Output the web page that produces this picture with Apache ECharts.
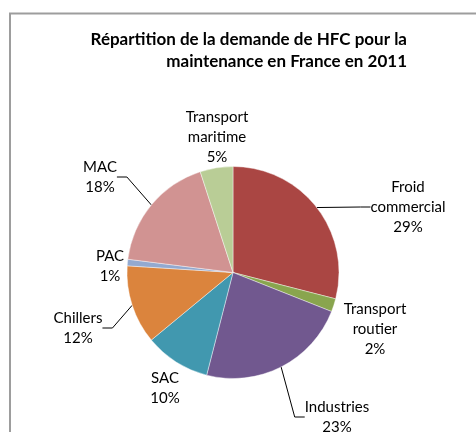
<!DOCTYPE html>
<html>
<head>
<meta charset="utf-8">
<script src="https://cdn.jsdelivr.net/npm/echarts@6/dist/echarts.min.js"></script>
<style>
	html, body { margin: 0; padding: 0; background: #fff; }
	#chart { width: 476px; height: 432px; }
</style>
</head>
<body>
<div id="chart"></div>
<script>
	"use strict";

	// ______________ DATA
	var categories = ['Froid commercial', 'Transport routier', 'Industries', 'SAC', 'Chillers', 'PAC', 'MAC', 'Transport maritime'];
	var shares = [29, 2, 23, 10, 12, 1, 18, 5];
	var titleLines = ['Répartition de la demande de HFC pour la', 'maintenance en France en 2011'];

	// ______________ STYLE
	var sliceColors = ['#AA4643', '#89A54E', '#71588F', '#4198AF', '#DB843D', '#93A9CF', '#D19392', '#B9CD96'];
	var withLeader = ['Froid commercial', 'Industries', 'Chillers', 'MAC'];
	// label centres, in pixels
	var labelSpots = {
		'Froid commercial': [408, 207],
		'Transport routier': [375, 329],
		'Industries': [337, 417],
		'SAC': [165, 388],
		'Chillers': [78, 328],
		'PAC': [110, 266],
		'MAC': [100, 177],
		'Transport maritime': [217, 137]
	};
	var FONT = 'Lato, "Open Sans", sans-serif';

	var pieData = categories.map(function(name, i) {
		return {
			name: name,
			value: shares[i],
			itemStyle: { color: sliceColors[i] },
			labelLine: { show: withLeader.indexOf(name) >= 0 }
		};
	});

	var chart = echarts.init(document.getElementById('chart'), null, { renderer: 'canvas' });
	chart.setOption({
		animation: false,
		title: {
			text: titleLines.join('\n'),
			left: 407,
			top: 29,
			padding: 0,
			textAlign: 'right',
			textStyle: {
				fontFamily: FONT,
				fontSize: 17,
				fontWeight: 'bold',
				color: '#000',
				lineHeight: 22,
				align: 'right'
			}
		},
		graphic: [{
			type: 'rect',
			silent: true,
			shape: { x: 10, y: 13.5, width: 520, height: 500 },
			style: { fill: 'none', stroke: '#9d9d9d', lineWidth: 2 }
		}],
		series: [{
			type: 'pie',
			center: [233, 272.5],
			radius: 106,
			startAngle: 90,
			clockwise: true,
			avoidLabelOverlap: false,
			itemStyle: {
				borderColor: 'rgba(255,255,255,0.7)',
				borderWidth: 0.6
			},
			label: {
				show: true,
				position: 'outside',
				fontFamily: FONT,
				fontSize: 15,
				lineHeight: 20,
				color: '#000',
				align: 'center',
				formatter: function(p) {
					return p.name.replace(' ', '\n') + '\n' + Math.round(p.percent) + '%';
				}
			},
			labelLine: {
				show: true,
				length: 10,
				length2: 10,
				lineStyle: { color: '#000', width: 1 }
			},
			labelLayout: function(params) {
				var spot = labelSpots[params.text.replace(/\n[^\n]*%$/, '').replace('\n', ' ')];
				if (!spot) return {};
				return {
					x: spot[0],
					y: spot[1],
					align: 'center',
					verticalAlign: 'middle'
				};
			},
			data: pieData
		}]
	});
</script>
</body>
</html>
